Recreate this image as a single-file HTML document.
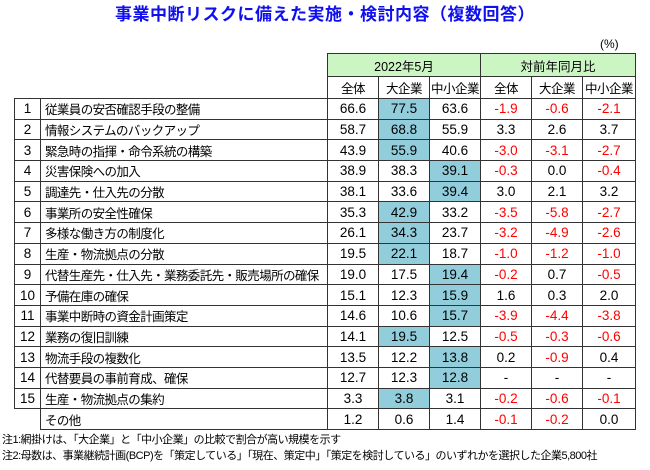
<!DOCTYPE html>
<html><head><meta charset="utf-8">
<style>
body{margin:0;width:650px;height:470px;background:#fff;font-family:"Liberation Sans","Noto Sans CJK JP",sans-serif;position:relative;overflow:hidden}
#title{position:absolute;left:0;width:650px;top:0px;text-align:center;font-size:17px;font-weight:bold;color:#1010ee;letter-spacing:0.5px}
#unit{position:absolute;left:600px;top:37px;font-size:12px}
table{position:absolute;left:14px;top:53px;width:621px;border-collapse:collapse;table-layout:fixed;font-size:13.5px}
td{padding:0;height:20.7px;border:1px solid #333;text-align:center;white-space:nowrap;overflow:hidden;box-sizing:border-box}
td.item{text-align:left;padding-left:4px;font-size:12.5px;letter-spacing:-0.6px}
td.hl{background:#92cddc}
td.neg{color:#ff0000}
tr.h1 td{height:23px}
tr.h2 td{height:22px;font-size:12.5px;letter-spacing:-0.5px}
td.g{background:#ccf5c4;font-size:12.5px}
td.nb{border:none}
.note{position:absolute;left:2px;font-size:11px;white-space:nowrap;letter-spacing:-0.5px}
</style></head><body>
<div id="title">事業中断リスクに備えた実施・検討内容（複数回答）</div>
<div id="unit">(%)</div>
<table id="tbl">
<colgroup><col style="width:26px"><col style="width:287px"><col style="width:51px"><col style="width:51px"><col style="width:51px"><col style="width:51px"><col style="width:51px"><col style="width:53px"></colgroup>
<tr class="h1"><td class="nb"></td><td class="nb" style="border-right:1px solid #333"></td><td colspan="3" class="g">2022年5月</td><td colspan="3" class="g">対前年同月比</td></tr>
<tr class="h2"><td class="nb"></td><td class="nb" style="border-right:1px solid #333"></td><td>全体</td><td>大企業</td><td>中小企業</td><td>全体</td><td>大企業</td><td>中小企業</td></tr>
</table>
<div class="note" style="top:431px">注1:網掛けは、「大企業」と「中小企業」の比較で割合が高い規模を示す</div>
<div class="note" style="top:447px">注2:母数は、事業継続計画(BCP)を「策定している」「現在、策定中」「策定を検討している」のいずれかを選択した企業5,800社</div>
<script>
const items=["従業員の安否確認手段の整備","情報システムのバックアップ","緊急時の指揮・命令系統の構築","災害保険への加入","調達先・仕入先の分散","事業所の安全性確保","多様な働き方の制度化","生産・物流拠点の分散","代替生産先・仕入先・業務委託先・販売場所の確保","予備在庫の確保","事業中断時の資金計画策定","業務の復旧訓練","物流手段の複数化","代替要員の事前育成、確保","生産・物流拠点の集約","その他"];
const allV=["66.6","58.7","43.9","38.9","38.1","35.3","26.1","19.5","19.0","15.1","14.6","14.1","13.5","12.7","3.3","1.2"];
const largeV=["77.5","68.8","55.9","38.3","33.6","42.9","34.3","22.1","17.5","12.3","10.6","19.5","12.2","12.3","3.8","0.6"];
const smeV=["63.6","55.9","40.6","39.1","39.4","33.2","23.7","18.7","19.4","15.9","15.7","12.5","13.8","12.8","3.1","1.4"];
const yoyAll=["-1.9","3.3","-3.0","-0.3","3.0","-3.5","-3.2","-1.0","-0.2","1.6","-3.9","-0.5","0.2","-","-0.2","-0.1"];
const yoyLarge=["-0.6","2.6","-3.1","0.0","2.1","-5.8","-4.9","-1.2","0.7","0.3","-4.4","-0.3","-0.9","-","-0.6","-0.2"];
const yoySme=["-2.1","3.7","-2.7","-0.4","3.2","-2.7","-2.6","-1.0","-0.5","2.0","-3.8","-0.6","0.4","-","-0.1","0.0"];
const tbl=document.getElementById('tbl');
items.forEach((it,i)=>{
  const tr=document.createElement('tr');
  
  
  const n=document.createElement('td');
  
  
  if(i<15){n.textContent=i+1;}else{n.className='nb';n.style.borderRight='1px solid #333';}
  tr.appendChild(n);
  const c=document.createElement('td');c.className='item';c.textContent=it;
  
  
  tr.appendChild(c);
  const lg=parseFloat(largeV[i]),sm=parseFloat(smeV[i]);
  const vals=[allV[i],largeV[i],smeV[i],yoyAll[i],yoyLarge[i],yoySme[i]];
  vals.forEach((v,j)=>{
    const td=document.createElement('td');td.textContent=v;
    
    
    if(i<15&&((j===1&&lg>sm)||(j===2&&sm>lg)))td.className='hl';
    if(j>=3&&v.startsWith('-')&&v.length>1)td.className='neg';
    tr.appendChild(td);
  });
  tbl.appendChild(tr);
});
</script>
</body></html>
